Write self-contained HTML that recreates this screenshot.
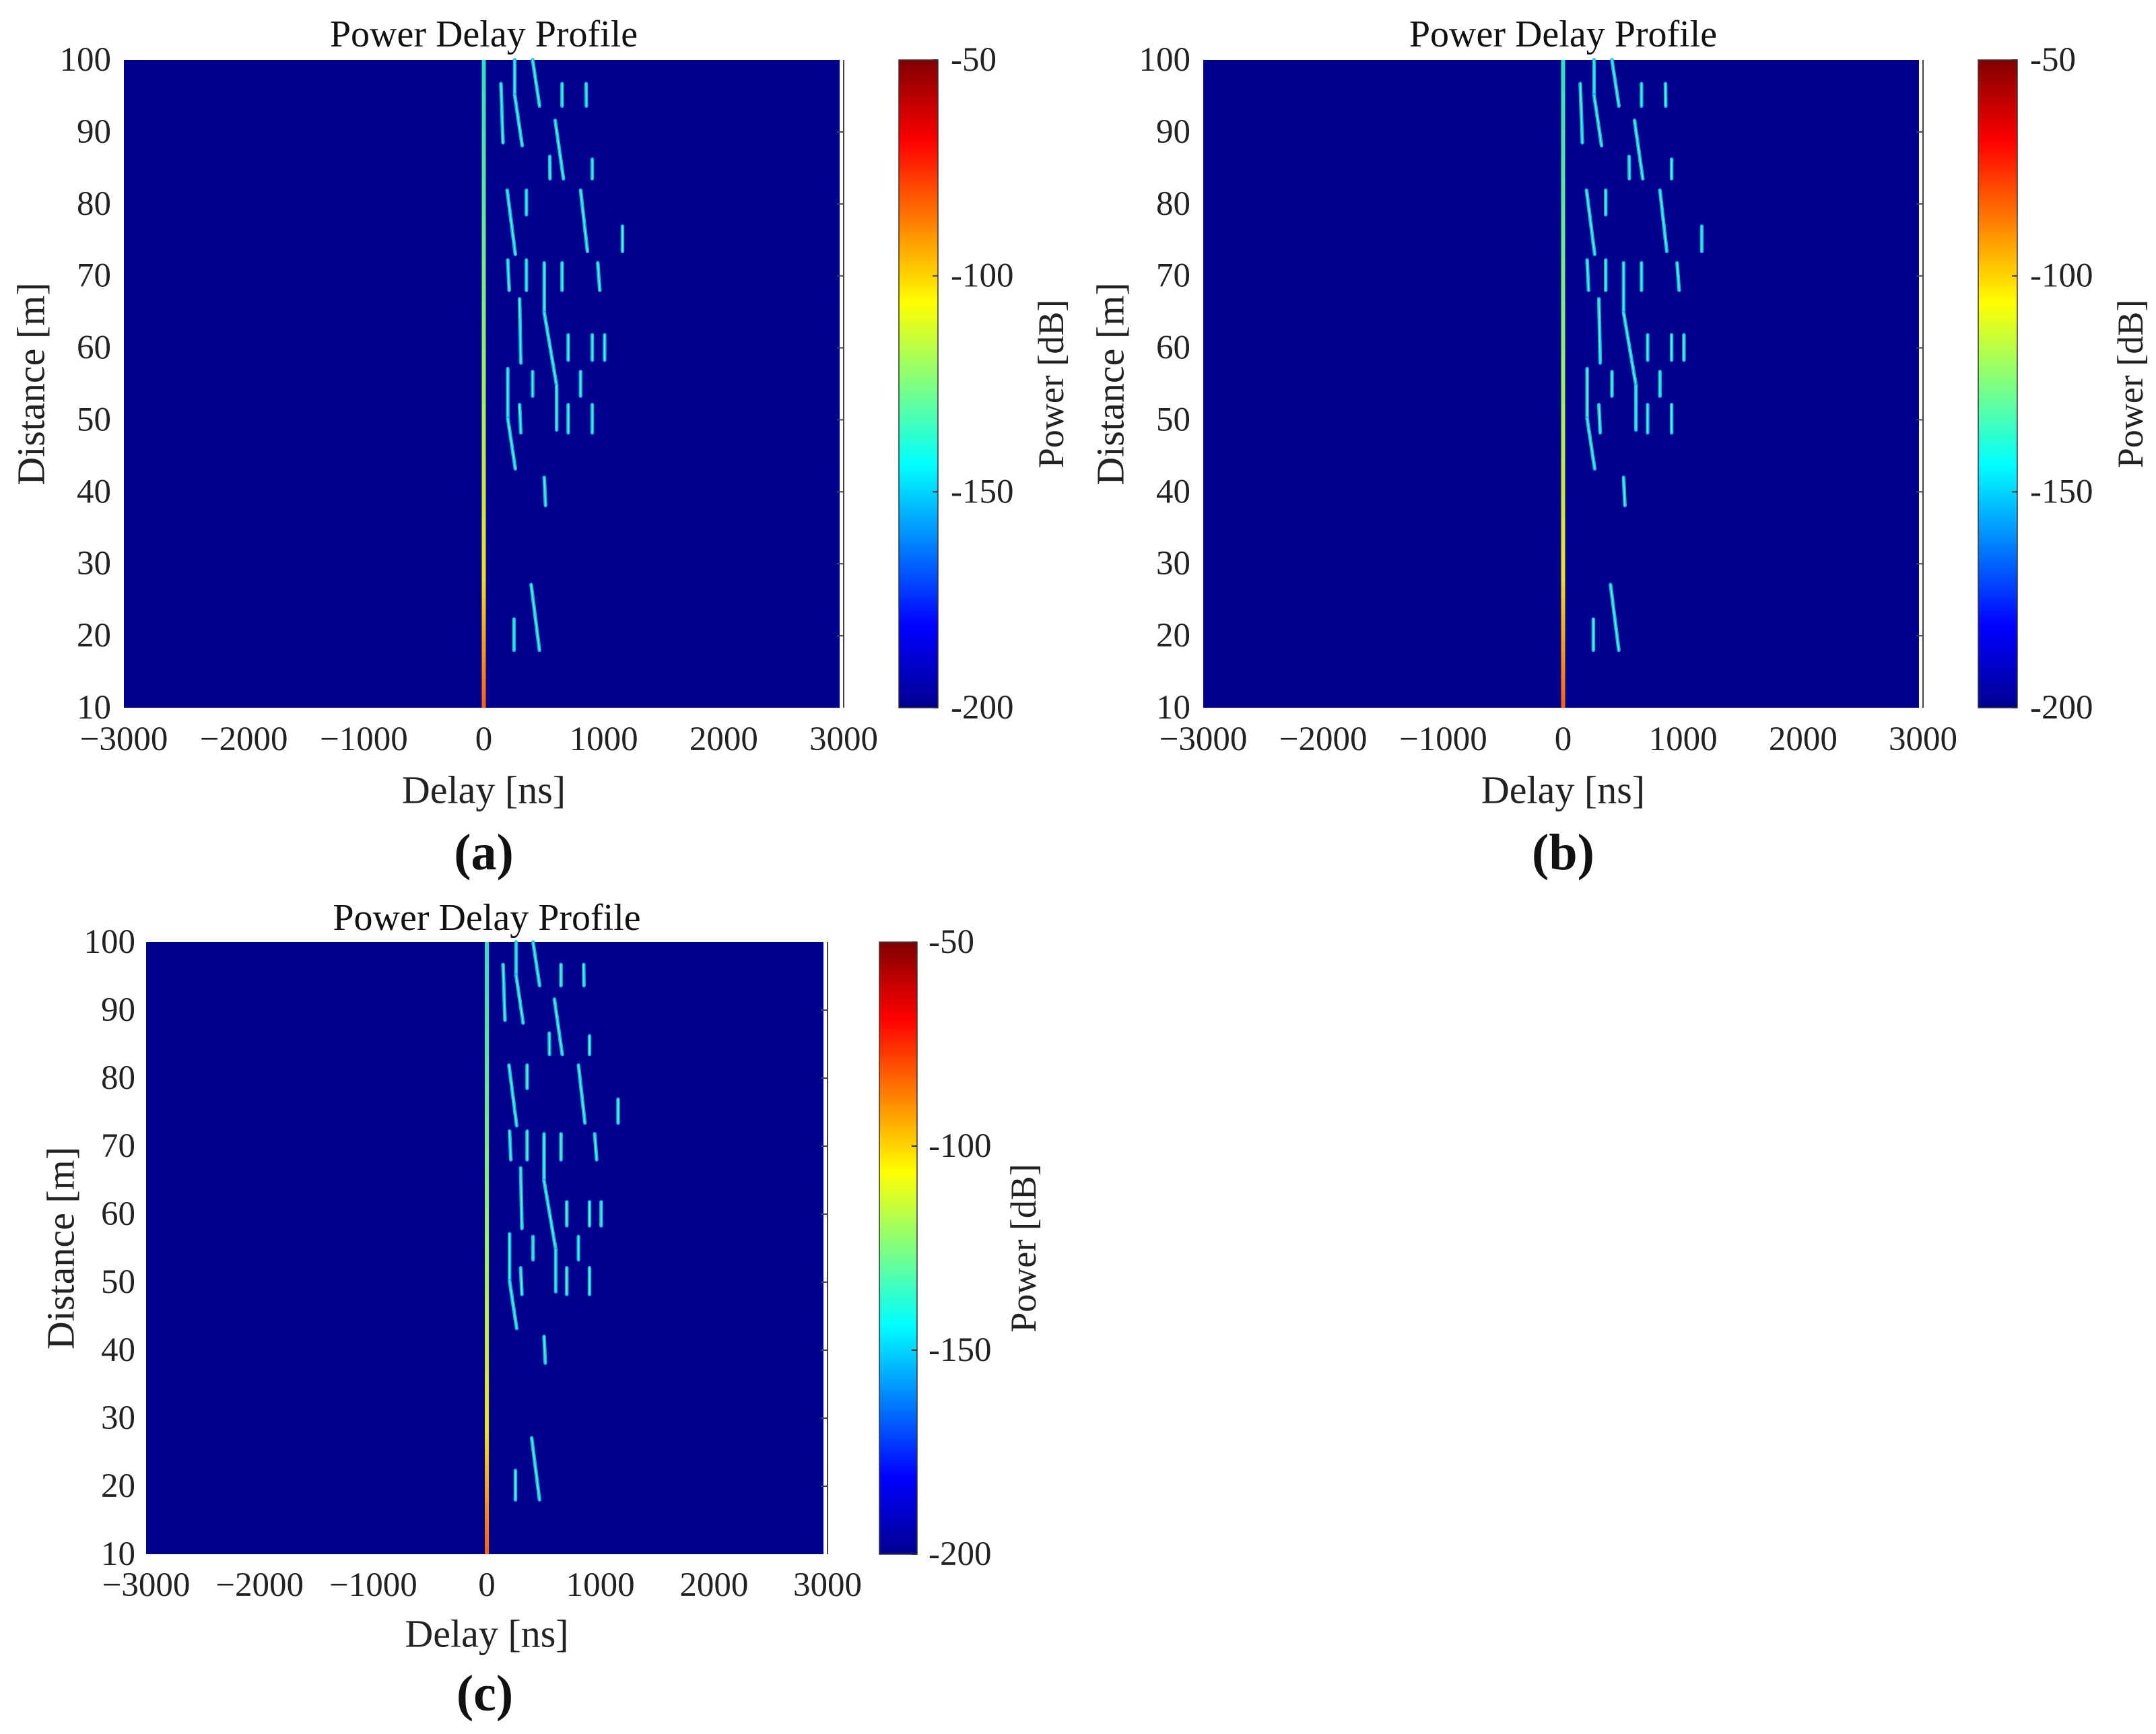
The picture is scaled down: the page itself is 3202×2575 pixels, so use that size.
<!DOCTYPE html>
<html><head><meta charset="utf-8"><style>
html,body{margin:0;padding:0;background:#fff;}
svg{display:block;font-family:"Liberation Serif",serif;}
</style></head><body>
<svg id="fig" xmlns="http://www.w3.org/2000/svg" width="3202" height="2575" viewBox="0 0 3202 2575">
<defs>
<linearGradient id="jet" x1="0" y1="0" x2="0" y2="1">
<stop offset="0" stop-color="#800000"/><stop offset="0.125" stop-color="#ff0000"/>
<stop offset="0.375" stop-color="#ffff00"/><stop offset="0.625" stop-color="#00ffff"/>
<stop offset="0.875" stop-color="#0000ff"/><stop offset="1" stop-color="#00008f"/>
</linearGradient>
<linearGradient id="los" x1="0" y1="0" x2="0" y2="1">
<stop offset="0" stop-color="#30e0c0"/><stop offset="0.5" stop-color="#a0f060"/>
<stop offset="0.8" stop-color="#f0e020"/><stop offset="1" stop-color="#ff6010"/>
</linearGradient>
</defs>
</svg>
<script>
// Delay axis ticks (ns) and distance ticks (m)
const xTicks = [-3000,-2000,-1000,0,1000,2000,3000];
const yTicks = [10,20,30,40,50,60,70,80,90,100];
const cbTicks = [-50,-100,-150,-200];
// Multipath streaks: start delay, start distance, end delay, end distance
const segDelay0 = [258,258,407,143,653,853,595,550,904,195,355,807,1156,200,355,504,504,607,653,950,298,704,904,1007,200,200,407,807,298,704,904,504,395,252];
const segDist0  = [100,95.1,100,96.7,96.7,96.7,91.6,86.6,86.2,81.9,81.9,81.9,76.9,72.2,72.2,71.8,64.9,54.8,71.8,71.8,66.8,61.8,61.8,61.8,57.1,50.2,56.7,56.7,52.1,52.1,52.1,42.0,27.1,22.3];
const segDelay1 = [258,320,465,160,653,855,664,552,904,263,355,864,1156,212,355,504,607,607,653,967,309,704,904,1007,200,263,407,807,309,704,904,515,464,252];
const segDist1  = [95.1,88.1,93.6,88.5,93.6,93.6,83.5,83.5,83.5,73.0,78.5,73.4,73.4,68.0,68.0,64.9,54.8,48.6,68.0,68.0,57.9,58.3,58.3,58.3,50.2,43.2,53.3,53.3,48.2,48.2,48.2,38.1,18.0,18.0];

const NS="http://www.w3.org/2000/svg";
const svg=document.getElementById('fig');
function mk(tag,attrs,parent){const e=document.createElementNS(NS,tag);for(const k in attrs)e.setAttribute(k,attrs[k]);(parent||svg).appendChild(e);return e;}
function txt(s,attrs,parent){const e=mk('text',attrs,parent);e.textContent=s;return e;}

const panels=[
 {id:'a',px0:184,px1:1253,py0:89,py1:1051,cb0:1335,cb1:1393,cbl:1412,pw:1561,yl:46,ytr:165,ty:51,xty:1098,xly:1173,ly:1266},
 {id:'b',px0:1787,px1:2856,py0:89,py1:1051,cb0:2938,cb1:2996,cbl:3015,pw:3164,yl:1649,ytr:1768,ty:51,xty:1098,xly:1173,ly:1266},
 {id:'c',px0:217,px1:1229,py0:1399,py1:2308,cb0:1306,cb1:1362,cbl:1379,pw:1520,yl:90,ytr:201,ty:1363,xty:2354,xly:2426,ly:2515}
];

panels.forEach(p=>{
 const g=mk('g',{});
 
 
 const xs=v=>p.px0+(v+3000)/6000*(p.px1-p.px0);
 const ys=v=>p.py1-(v-10)/90*(p.py1-p.py0);
 const bg=mk('rect',{x:p.px0,y:p.py0,width:p.px1-p.px0-6,height:p.py1-p.py0,fill:'#00008f'},g);
 
 
 const ax=mk('line',{x1:p.px1,y1:p.py0,x2:p.px1,y2:p.py1,stroke:'#444','stroke-width':2},g);
 
 
 const los=mk('rect',{x:xs(0)-3,y:p.py0,width:6,height:p.py1-p.py0,fill:'url(#los)'},g);
 
 
 for(let i=0;i<segDelay0.length;i++){
  const a={x1:xs(segDelay0[i]),y1:ys(segDist0[i]),x2:xs(segDelay1[i]),y2:ys(segDist1[i])};
  const s1=mk('line',Object.assign({stroke:'#10b0f0','stroke-width':5.5,'stroke-linecap':'round'},a),g);
  
  
  const s2=mk('line',Object.assign({stroke:'#60f0b0','stroke-width':2,'stroke-linecap':'round'},a),g);
  
  
 }
 xTicks.forEach(v=>{
  const t=txt(v<0?'\u2212'+(-v):String(v),{x:xs(v),y:p.xty,'font-size':51,'text-anchor':'middle','dominant-baseline':'central',fill:'#222'},g);
  
  
 });
 yTicks.forEach(v=>{
  const t=txt(String(v),{x:p.ytr,y:ys(v),'font-size':51,'text-anchor':'end','dominant-baseline':'central',fill:'#222'},g);
  
  
  if(v>10&&v<100){const tk=mk('line',{x1:p.px1-10,y1:ys(v),x2:p.px1,y2:ys(v),stroke:'#444','stroke-width':2},g);
  
  }
 });
 const title=txt('Power Delay Profile',{x:(p.px0+p.px1)/2,y:p.ty,'font-size':56,'text-anchor':'middle','dominant-baseline':'central',fill:'#111'},g);
 
 
 const xl=txt('Delay [ns]',{x:(p.px0+p.px1)/2,y:p.xly,'font-size':58,'text-anchor':'middle','dominant-baseline':'central',fill:'#222'},g);
 
 
 const yl=txt('Distance [m]',{x:p.yl,y:(p.py0+p.py1)/2,'font-size':58,'text-anchor':'middle','dominant-baseline':'central',fill:'#222',transform:`rotate(-90 ${p.yl} ${(p.py0+p.py1)/2})`},g);
 
 
 const cb=mk('rect',{x:p.cb0,y:p.py0,width:p.cb1-p.cb0,height:p.py1-p.py0,fill:'url(#jet)',stroke:'#333','stroke-width':1.5},g);
 
 
 cbTicks.forEach(v=>{
  const y=p.py0+(-50-v)/150*(p.py1-p.py0);
  const t=txt(String(v),{x:p.cbl,y:y,'font-size':51,'text-anchor':'start','dominant-baseline':'central',fill:'#222'},g);
  
  
  const tk=mk('line',{x1:p.cb1-8,y1:y,x2:p.cb1,y2:y,stroke:'#333','stroke-width':2},g);
  
  
 });
 const pwy=(p.py0+p.py1)/2;
 const pl=txt('Power [dB]',{x:p.pw,y:pwy,'font-size':54,'text-anchor':'middle','dominant-baseline':'central',fill:'#222',transform:`rotate(-90 ${p.pw} ${pwy})`},g);
 
 
 const lt=txt('('+p.id+')',{x:(p.px0+p.px1)/2+(p.id==='c'?-3:0),y:p.ly,'font-size':76,'font-weight':'bold','text-anchor':'middle','dominant-baseline':'central',fill:'#111'},g);
 
 
});
</script>
</body></html>
